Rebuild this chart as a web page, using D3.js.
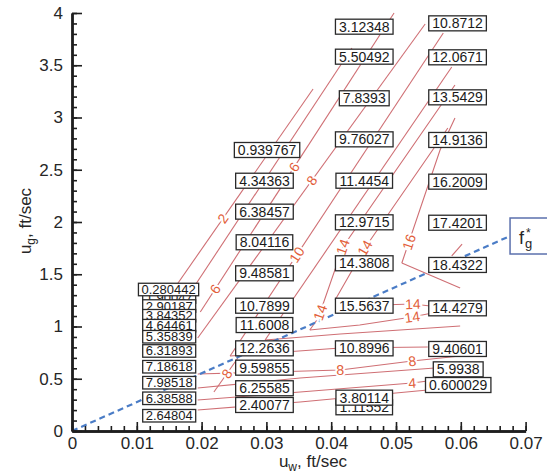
<!DOCTYPE html>
<html>
<head>
<meta charset="utf-8">
<script src="https://cdn.jsdelivr.net/npm/d3@7"></script>
<style>
  body { margin: 0; background: #fff; }
  svg text { font-family: "Liberation Sans", Arial, Helvetica, sans-serif; }
</style>
</head>
<body>
<svg width="547" height="476"></svg>
<script>
// ---- data ----
const xTicks = [0, 0.01, 0.02, 0.03, 0.04, 0.05, 0.06, 0.07];
const yTicks = [0, 0.5, 1, 1.5, 2, 2.5, 3, 3.5, 4];
const xMinor = d3.range(0, 0.0701, 0.002);
const yMinor = d3.range(0, 4.01, 0.1);

// f_g* ridge (dashed)
const ridge = [[0, 0], [0.0676, 1.866]];

// contour arms [u_w, u_g]
const contourArms = [
  { id: "C2",   pts: [[0.0154, 1.330], [0.0372, 3.273]] },
  { id: "C4",   pts: [[0.0179, 1.292], [0.0432, 3.665]] },
  { id: "C6",   pts: [[0.0198, 1.139], [0.0497, 4.0]] },
  { id: "C8",   pts: [[0.0194, 0.890], [0.0545, 3.895]] },
  { id: "C10",  pts: [[0.0244, 0.718], [0.0573, 3.809]] },
  { id: "C12",  pts: [[0.0298, 0.871], [0.0586, 3.483]] },
  { id: "C14a", pts: [[0.0367, 0.967], [0.0380, 1.081], [0.0418, 1.761], [0.0591, 3.311]] },
  { id: "C14b", pts: [[0.0406, 1.254], [0.0452, 1.751], [0.0580, 2.900]] },
  { id: "C16",  pts: [[0.0509, 1.608], [0.0568, 2.689], [0.0591, 2.995]] },
  { id: "C18",  pts: [[0.0586, 1.675], [0.0602, 1.789]] },
  { id: "L2",   pts: [[0.0194, 0.201], [0.0352, 0.278], [0.0549, 0.392]] },
  { id: "L4",   pts: [[0.0194, 0.297], [0.0352, 0.373], [0.0525, 0.459], [0.0549, 0.478]] },
  { id: "L6",   pts: [[0.0194, 0.411], [0.0352, 0.507], [0.0560, 0.603]] },
  { id: "L8",   pts: [[0.0194, 0.545], [0.0414, 0.584], [0.0525, 0.670], [0.0614, 0.727]] },
  { id: "L10",  pts: [[0.0244, 0.718], [0.0414, 0.794], [0.0549, 0.804]] },
  { id: "L12",  pts: [[0.0298, 0.871], [0.0414, 0.928], [0.0599, 1.005]] },
  { id: "L14a", pts: [[0.0367, 0.967], [0.0444, 1.014], [0.0525, 1.091], [0.0556, 1.129]] },
  { id: "L14b", pts: [[0.0406, 1.254], [0.0475, 1.206], [0.0526, 1.215], [0.0553, 1.196]] },
  { id: "L16",  pts: [[0.0509, 1.608], [0.0599, 1.368]] },
  { id: "S8",   pts: [[0.0219, 0.373], [0.0256, 0.699]] }
];

// contour labels: arm, value, u_w where it sits
const contourLabels = [
  { arm: "C2", v: "2", uw: 0.0233 },
  { arm: "C6", v: "6", uw: 0.0221 },
  { arm: "C6", v: "6", uw: 0.0343 },
  { arm: "C8", v: "8", uw: 0.0370 },
  { arm: "C10", v: "10", uw: 0.0347 },
  { arm: "C14a", v: "14", uw: 0.0383 },
  { arm: "C14a", v: "14", uw: 0.0418 },
  { arm: "C14b", v: "14", uw: 0.0452 },
  { arm: "C16", v: "16", uw: 0.0520 },
  { arm: "L14b", v: "14", uw: 0.0526 },
  { arm: "L14a", v: "14", uw: 0.0525 },
  { arm: "L8", v: "8", uw: 0.0414 },
  { arm: "L8", v: "8", uw: 0.0525 },
  { arm: "L4", v: "4", uw: 0.0525 },
  { arm: "S8", v: "8", uw: 0.0239 }
];

// boxed values, one array per column (draw order = array order)
const colA = [
  { t: "1.90047", uw: 0.0150, ug: 1.282 },
  { t: "0.280442", uw: 0.0149, ug: 1.354 },
  { t: "2.90187", uw: 0.0150, ug: 1.196 },
  { t: "3.84352", uw: 0.0150, ug: 1.103 },
  { t: "4.64461", uw: 0.0150, ug: 1.008 },
  { t: "5.35839", uw: 0.0150, ug: 0.902 },
  { t: "6.31893", uw: 0.0150, ug: 0.766 },
  { t: "7.18618", uw: 0.0150, ug: 0.615 },
  { t: "7.98518", uw: 0.0150, ug: 0.462 },
  { t: "6.38588", uw: 0.0150, ug: 0.313 },
  { t: "2.64804", uw: 0.0150, ug: 0.146 }
];
const colB = [
  { t: "0.939767", uw: 0.0301, ug: 2.689 },
  { t: "4.34363", uw: 0.0297, ug: 2.395 },
  { t: "6.38457", uw: 0.0297, ug: 2.099 },
  { t: "8.04116", uw: 0.0297, ug: 1.806 },
  { t: "9.48581", uw: 0.0297, ug: 1.509 },
  { t: "10.7899", uw: 0.0297, ug: 1.199 },
  { t: "11.6008", uw: 0.0297, ug: 1.014 },
  { t: "12.2636", uw: 0.0297, ug: 0.791 },
  { t: "9.59855", uw: 0.0297, ug: 0.606 },
  { t: "6.25585", uw: 0.0297, ug: 0.409 },
  { t: "2.40077", uw: 0.0297, ug: 0.249 }
];
const colC = [
  { t: "3.12348", uw: 0.0451, ug: 3.869 },
  { t: "5.50492", uw: 0.0451, ug: 3.582 },
  { t: "7.8393", uw: 0.0451, ug: 3.184 },
  { t: "9.76027", uw: 0.0451, ug: 2.791 },
  { t: "11.4454", uw: 0.0451, ug: 2.395 },
  { t: "12.9715", uw: 0.0451, ug: 1.997 },
  { t: "14.3808", uw: 0.0451, ug: 1.605 },
  { t: "15.5637", uw: 0.0451, ug: 1.199 },
  { t: "10.8996", uw: 0.0451, ug: 0.791 },
  { t: "1.11552", uw: 0.0451, ug: 0.227 },
  { t: "3.80114", uw: 0.0451, ug: 0.319 }
];
const colD = [
  { t: "10.8712", uw: 0.0595, ug: 3.901 },
  { t: "12.0671", uw: 0.0595, ug: 3.576 },
  { t: "13.5429", uw: 0.0595, ug: 3.193 },
  { t: "14.9136", uw: 0.0595, ug: 2.785 },
  { t: "16.2009", uw: 0.0595, ug: 2.386 },
  { t: "17.4201", uw: 0.0595, ug: 1.993 },
  { t: "18.4322", uw: 0.0595, ug: 1.589 },
  { t: "14.4279", uw: 0.0595, ug: 1.174 },
  { t: "9.40601", uw: 0.0595, ug: 0.785 },
  { t: "5.9938", uw: 0.0596, ug: 0.590 },
  { t: "0.600029", uw: 0.0596, ug: 0.440 }
];

// ---- chart ----
const svg = d3.select("svg");
const x = d3.scaleLinear().domain([0, 0.07]).range([72, 525.6]);
const y = d3.scaleLinear().domain([0, 4]).range([431, 13]);
const line = d3.line().x(d => x(d[0])).y(d => y(d[1]));

// contour lines
svg.append("g")
  .selectAll("path")
  .data(contourArms)
  .join("path")
  .attr("d", d => line(d.pts))
  .attr("fill", "none")
  .attr("stroke", "#cf6f74")
  .attr("stroke-width", 1.1);

// dashed ridge
svg.append("path")
  .attr("d", line(ridge))
  .attr("fill", "none")
  .attr("stroke", "#4a7cc6")
  .attr("stroke-width", 2.2)
  .attr("stroke-dasharray", "6,4");

// contour labels, placed on their arm and turned along it
const armById = new Map(contourArms.map(d => [d.id, d]));
function placeOn(arm, uw) {
  const px = x(uw);
  const p = arm.pts.map(d => [x(d[0]), y(d[1])]);
  for (let i = 0; i < p.length - 1; i++) {
    const a = p[i], b = p[i + 1];
    if ((px - a[0]) * (px - b[0]) <= 0 && a[0] !== b[0]) {
      const t = (px - a[0]) / (b[0] - a[0]);
      let ang = Math.atan2(b[1] - a[1], b[0] - a[0]) * 180 / Math.PI;
      if (ang > 90) ang -= 180;
      if (ang < -90) ang += 180;
      return { x: px, y: a[1] + t * (b[1] - a[1]), ang };
    }
  }
  return { x: px, y: y(arm.pts[0][1]), ang: 0 };
}

svg.append("g")
  .selectAll("text")
  .data(contourLabels)
  .join("text")
  .each(function(d) {
    const p = placeOn(armById.get(d.arm), d.uw);
    d3.select(this).attr("transform", `translate(${p.x},${p.y}) rotate(${p.ang})`);
  })
  .attr("text-anchor", "middle")
  .attr("dominant-baseline", "central")
  .style("font-size", "14px")
  .attr("fill", "#e2603a")
  .attr("stroke", "#fff")
  .attr("stroke-width", 4)
  .attr("paint-order", "stroke")
  .text(d => d.v);

// boxed values
function drawColumn(data, fontSize, pad, h) {
  const g = svg.append("g");
  data.forEach(d => {
    const cell = g.append("g").attr("transform", `translate(${x(d.uw)},${y(d.ug)})`);
    const rect = cell.append("rect");
    const txt = cell.append("text")
      .attr("text-anchor", "middle")
      .attr("dominant-baseline", "central")
      .style("font-size", fontSize + "px")
      .attr("fill", "#1a1a1a")
      .text(d.t);
    const w = txt.node().getComputedTextLength() + 2 * pad;
    rect.attr("x", -w / 2).attr("y", -h / 2)
      .attr("width", w).attr("height", h)
      .attr("fill", "#fff")
      .attr("stroke", "#2a2a2a")
      .attr("stroke-width", 1.3);
  });
}
drawColumn(colA, 13, 3, 12.5);
drawColumn(colB, 14, 3.5, 15);
drawColumn(colC, 14, 3.5, 15);
drawColumn(colD, 14, 3.5, 15);

// axes (ticks point inward)
const fmt = d => d === 0 ? "0" : String(+d.toFixed(2));

const yMinorAxis = svg.append("g")
  .attr("transform", `translate(${x(0)},0)`)
  .call(d3.axisLeft(y).tickValues(yMinor).tickSize(-5).tickSizeOuter(0).tickFormat(""));
const yAxis = svg.append("g")
  .attr("transform", `translate(${x(0)},0)`)
  .call(d3.axisLeft(y).tickValues(yTicks).tickSize(-10).tickSizeOuter(0).tickPadding(9).tickFormat(fmt));

const xMinorAxis = svg.append("g")
  .attr("transform", `translate(0,${y(0)})`)
  .call(d3.axisBottom(x).tickValues(xMinor).tickSize(-5).tickSizeOuter(0).tickFormat(""));
const xAxis = svg.append("g")
  .attr("transform", `translate(0,${y(0)})`)
  .call(d3.axisBottom(x).tickValues(xTicks).tickSize(-9).tickSizeOuter(0).tickPadding(6).tickFormat(fmt));

[yMinorAxis, yAxis, xMinorAxis, xAxis].forEach(a => {
  a.select(".domain").attr("stroke", "#1e1e1e").attr("stroke-width", 2.4);
  a.selectAll(".tick line").attr("stroke", "#1e1e1e").attr("stroke-width", 1.6);
  a.selectAll("text").style("font-size", "17px").attr("fill", "#262626")
    .style("font-family", "\"Liberation Sans\", Arial, sans-serif");
});

// axis titles
const xTitle = svg.append("text")
  .attr("x", 313).attr("y", 467)
  .attr("text-anchor", "middle")
  .style("font-size", "17px")
  .attr("fill", "#262626");
xTitle.append("tspan").text("u");
xTitle.append("tspan").attr("dy", 4).style("font-size", "12px").text("w");
xTitle.append("tspan").attr("dy", -4).text(", ft/sec");

const yTitle = svg.append("text")
  .attr("transform", "translate(31,221) rotate(-90)")
  .attr("text-anchor", "middle")
  .style("font-size", "17px")
  .attr("fill", "#262626");
yTitle.append("tspan").text("u");
yTitle.append("tspan").attr("dy", 4).style("font-size", "12px").text("g");
yTitle.append("tspan").attr("dy", -4).text(", ft/sec");

// f_g* tag at the end of the ridge
const end = ridge[ridge.length - 1];
const tag = svg.append("g").attr("transform", `translate(${x(end[0])},${y(end[1])})`);
tag.append("rect")
  .attr("x", 0).attr("y", -18)
  .attr("width", 45).attr("height", 36)
  .attr("fill", "#fff")
  .attr("stroke", "#5b70ad")
  .attr("stroke-width", 1.5);
tag.append("text").attr("x", 9).attr("y", 8).style("font-size", "18px").attr("fill", "#262626").text("f");
tag.append("text").attr("x", 15).attr("y", 12).style("font-size", "13px").attr("fill", "#262626").text("g");
tag.append("text").attr("x", 16).attr("y", 1).style("font-size", "12px").attr("fill", "#262626").text("*");
</script>
</body>
</html>
